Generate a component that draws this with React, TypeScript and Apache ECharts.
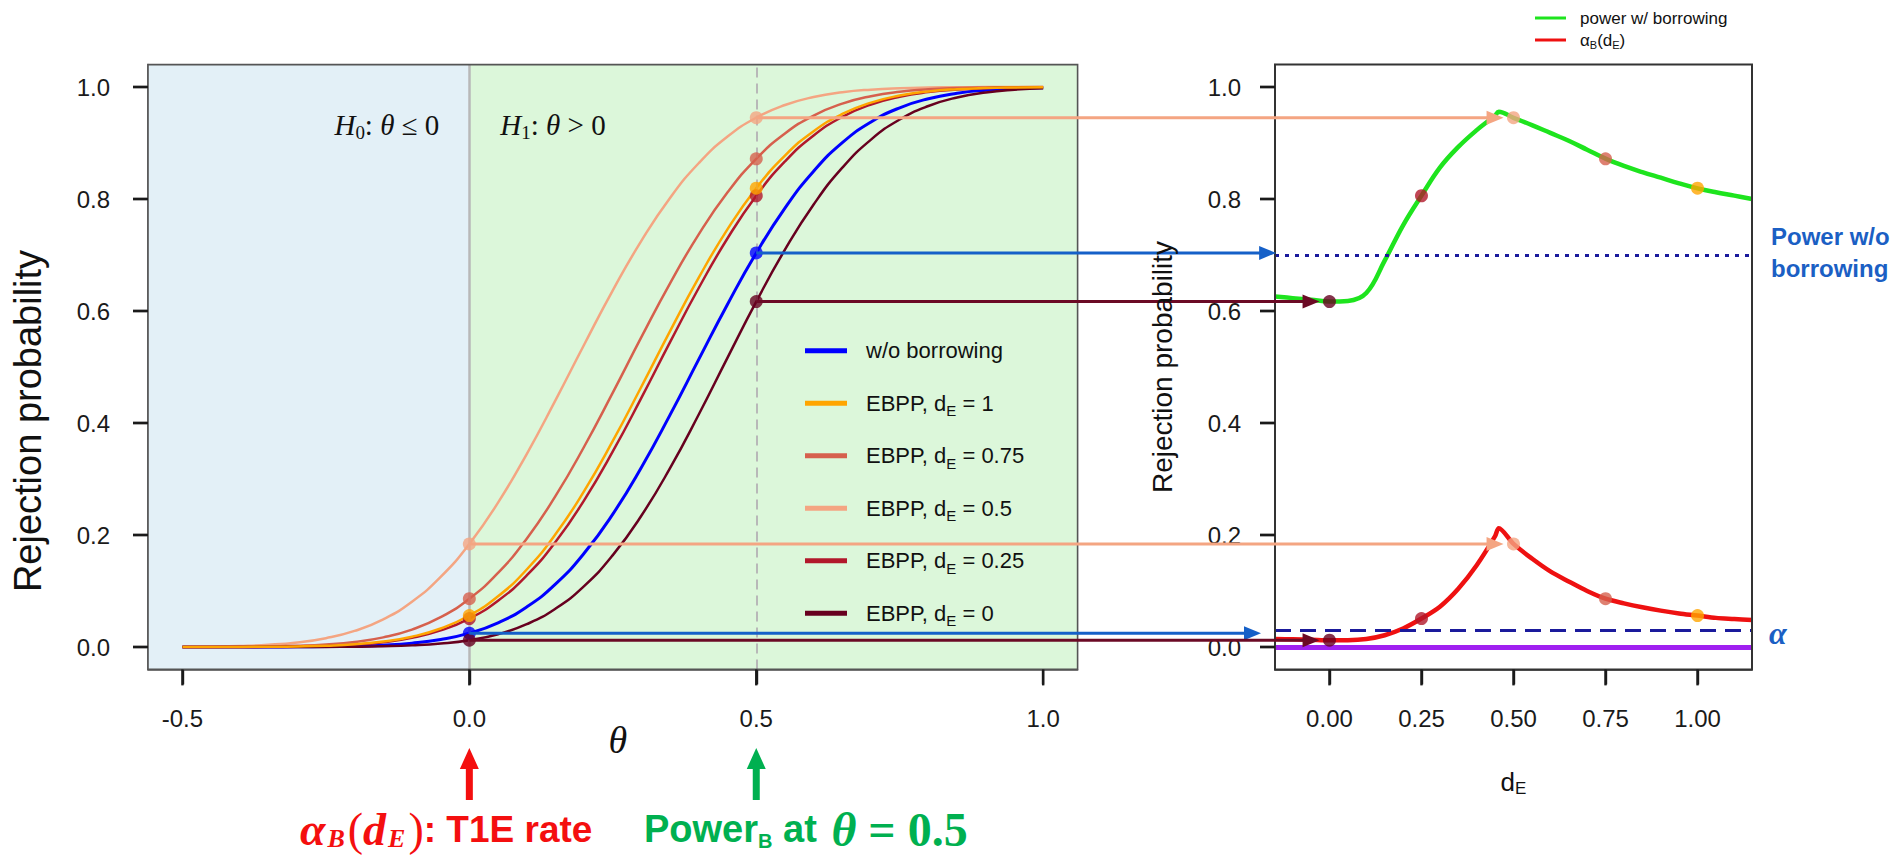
import React, { useEffect, useRef } from "react";
import * as echarts from "echarts";

// ---------- data ----------
const thetaGrid = [
  -0.5, -0.45, -0.4, -0.35, -0.3, -0.25, -0.2, -0.15, -0.1, -0.05, 0, 0.05, 0.1, 0.15, 0.2, 0.25,
  0.3, 0.35, 0.4, 0.45, 0.5, 0.55, 0.6, 0.65, 0.7, 0.75, 0.8, 0.85, 0.9, 0.95, 1.0,
];
const powerNoBorrow = [
  0.0, 0.0, 0.0, 0.0001, 0.0003, 0.0007, 0.0015, 0.0033, 0.0068, 0.0134, 0.0247, 0.0432, 0.0715,
  0.1122, 0.1673, 0.2373, 0.321, 0.4149, 0.514, 0.6122, 0.7037, 0.7838, 0.8497, 0.9006, 0.9376,
  0.9629, 0.9791, 0.9888, 0.9944, 0.9973, 0.9988,
];
const powerD1 = [
  0.0, 0.0001, 0.0002, 0.0004, 0.001, 0.0023, 0.0048, 0.0097, 0.0184, 0.0331, 0.0562, 0.0905, 0.1384,
  0.2012, 0.2784, 0.3679, 0.4651, 0.5645, 0.66, 0.7462, 0.8193, 0.8775, 0.9211, 0.9518, 0.9721,
  0.9847, 0.9921, 0.9961, 0.9982, 0.9992, 0.9997,
];
const powerD075 = [
  0.0001, 0.0002, 0.0004, 0.0009, 0.0021, 0.0045, 0.009, 0.0172, 0.0311, 0.0532, 0.0862, 0.1324,
  0.1935, 0.2693, 0.3576, 0.4542, 0.5537, 0.6499, 0.7373, 0.8119, 0.8718, 0.917, 0.949, 0.9703,
  0.9836, 0.9915, 0.9958, 0.998, 0.9991, 0.9996, 0.9999,
];
const powerD05 = [
  0.0003, 0.0008, 0.0019, 0.004, 0.0082, 0.0158, 0.0287, 0.0495, 0.0808, 0.1251, 0.1841, 0.2578,
  0.3446, 0.4404, 0.5398, 0.6368, 0.7257, 0.8023, 0.8643, 0.9115, 0.9452, 0.9678, 0.9821, 0.9906,
  0.9953, 0.9978, 0.999, 0.9996, 0.9998, 0.9999, 1.0,
];
const powerD025 = [
  0.0, 0.0001, 0.0001, 0.0004, 0.0009, 0.0019, 0.0042, 0.0085, 0.0163, 0.0296, 0.0508, 0.0827,
  0.1277, 0.1874, 0.2619, 0.3492, 0.4453, 0.5448, 0.6415, 0.7299, 0.8058, 0.867, 0.9135, 0.9466,
  0.9687, 0.9827, 0.9909, 0.9955, 0.9979, 0.9991, 0.9996,
];
const powerD0 = [
  0.0, 0.0, 0.0, 0.0, 0.0001, 0.0002, 0.0005, 0.0013, 0.0029, 0.0061, 0.0121, 0.0229, 0.0407, 0.0684,
  0.1088, 0.164, 0.2348, 0.3199, 0.4157, 0.5168, 0.6168, 0.7095, 0.7902, 0.8559, 0.9061, 0.942,
  0.9661, 0.9813, 0.9903, 0.9952, 0.9978,
];

const curveNames = [
  "w/o borrowing",
  "EBPP, dE = 1",
  "EBPP, dE = 0.75",
  "EBPP, dE = 0.5",
  "EBPP, dE = 0.25",
  "EBPP, dE = 0",
];
const curveLegendText = [
  "w/o borrowing",
  "EBPP, d{sub|E} = 1",
  "EBPP, d{sub|E} = 0.75",
  "EBPP, d{sub|E} = 0.5",
  "EBPP, d{sub|E} = 0.25",
  "EBPP, d{sub|E} = 0",
];
const curveColors = ["#0000FF", "#FFA500", "#D6604D", "#F4A582", "#B2182B", "#67001F"];
const curveData = [powerNoBorrow, powerD1, powerD075, powerD05, powerD025, powerD0];
const curveDrawOrder = [0, 3, 2, 4, 5, 1];
const dotDrawOrder = [0, 3, 2, 4, 1, 5];

const dEGrid = [
  -0.148, -0.1, -0.05, 0, 0.05, 0.1, 0.15, 0.2, 0.25, 0.3, 0.35, 0.4, 0.45, 0.46, 0.5, 0.55, 0.6,
  0.65, 0.7, 0.75, 0.8, 0.85, 0.9, 0.95, 1.0, 1.05, 1.1, 1.148,
];
const powerBorrow = [
  0.626, 0.623, 0.62, 0.617, 0.618, 0.632, 0.69, 0.753, 0.806, 0.856, 0.893, 0.923, 0.949, 0.956,
  0.945, 0.932, 0.918, 0.904, 0.888, 0.872, 0.859, 0.848, 0.838, 0.828, 0.819, 0.812, 0.806, 0.8,
];
const t1eBorrow = [
  0.0143, 0.0137, 0.013, 0.0121, 0.0122, 0.0143, 0.021, 0.033, 0.0508, 0.072, 0.104, 0.146, 0.198,
  0.212, 0.184, 0.158, 0.135, 0.117, 0.1, 0.0862, 0.078, 0.071, 0.065, 0.06, 0.0562, 0.052, 0.05,
  0.048,
];
const dEPoints = [0, 0.25, 0.5, 0.75, 1];
const dEPointCurve = [5, 4, 3, 2, 1];

const alphaLevel = 0.025;
const thetaT1E = 0;
const thetaPower = 0.5;

const arrowTheta = [0.5, 0.5, 0.5, 0, 0, 0];
const arrowCurve = [3, 0, 5, 3, 0, 5];
const arrowTipDE = [0.473, -0.145, -0.027, 0.473, -0.186, -0.027];
const arrowColors = ["#F4A582", "#1560C8", "#6B0A25", "#F4A582", "#1560C8", "#6B0A25"];

const thetaTicks = [-0.5, 0, 0.5, 1];
const dETicks = [0, 0.25, 0.5, 0.75, 1];
const probTicks = [0, 0.2, 0.4, 0.6, 0.8, 1];

// ---------- layout ----------
const FONT = "'Liberation Sans', Arial, sans-serif";
const SERIF = "'Liberation Serif', 'DejaVu Serif', serif";
const GL = { left: 148, top: 64.6, width: 929.6, height: 604.8 };
const GR = { left: 1275, top: 64.6, width: 477, height: 604.8 };

function xyAxis(grid: number, min: number, max: number, ticks: number[], digits: number, margin: number, lineColor: string) {
  return {
    type: "value",
    gridIndex: grid,
    min,
    max,
    axisLine: { show: true, onZero: false, lineStyle: { color: lineColor, width: 1.6 } },
    splitLine: { show: false },
    axisTick: { show: true, inside: false, length: 15, customValues: ticks, lineStyle: { color: "#1a1a1a", width: 2.4 } },
    axisLabel: {
      customValues: ticks,
      formatter: (v: number) => v.toFixed(digits),
      fontSize: 24,
      fontFamily: FONT,
      color: "#1a1a1a",
      margin,
    },
  };
}

function buildOption() {
  const i0 = thetaGrid.indexOf(thetaT1E);
  const i5 = thetaGrid.indexOf(thetaPower);
  const series: any[] = [];
  series.push({
    type: "line",
    xAxisIndex: 0,
    yAxisIndex: 0,
    data: [[-0.5, 0]],
    symbol: "none",
    lineStyle: { width: 0 },
    silent: true,
    z: 0,
    markArea: {
      silent: true,
      data: [
        [{ xAxis: -0.56, yAxis: -0.04, itemStyle: { color: "#E3F0F7" } }, { xAxis: 0, yAxis: 1.04 }],
        [{ xAxis: 0, yAxis: -0.04, itemStyle: { color: "#DCF7DA" } }, { xAxis: 1.06, yAxis: 1.04 }],
      ],
    },
    markLine: {
      silent: true,
      symbol: ["none", "none"],
      label: { show: false },
      data: [
        { xAxis: thetaT1E, lineStyle: { color: "#b8b8b8", width: 2.5, type: "solid" } },
        { xAxis: thetaPower, lineStyle: { color: "#b8b8b8", width: 2, type: [10, 6] } },
      ],
    },
  });
  curveDrawOrder.forEach((k) => {
    series.push({
      name: curveNames[k],
      type: "line",
      xAxisIndex: 0,
      yAxisIndex: 0,
      data: thetaGrid.map((t, i) => [t, curveData[k][i]]),
      showSymbol: false,
      symbol: "none",
      smooth: 0.5,
      color: curveColors[k],
      itemStyle: { color: curveColors[k] },
      lineStyle: { color: curveColors[k], width: k === 0 ? 3 : 2.5, join: "round" },
      z: 3,
      silent: true,
    });
  });
  series.push({
    type: "scatter",
    xAxisIndex: 0,
    yAxisIndex: 0,
    symbolSize: 13,
    z: 5,
    silent: true,
    data: dotDrawOrder.flatMap((k) => [
      { value: [thetaT1E, curveData[k][i0]], itemStyle: { color: curveColors[k] } },
      { value: [thetaPower, curveData[k][i5]], itemStyle: { color: curveColors[k] } },
    ]),
  });
  // right panel
  series.push({
    type: "line",
    xAxisIndex: 1,
    yAxisIndex: 1,
    data: [[-0.148, 0]],
    symbol: "none",
    lineStyle: { width: 0 },
    silent: true,
    z: 1,
    markLine: {
      silent: true,
      symbol: ["none", "none"],
      label: { show: false },
      data: [
        { yAxis: 0, lineStyle: { color: "#A020F0", width: 5, type: "solid" } },
        { yAxis: alphaLevel, lineStyle: { color: "#1a1a9c", width: 3, type: [16, 9] } },
        { yAxis: powerNoBorrow[i5], lineStyle: { color: "#1a1a9c", width: 3, type: [4, 6] } },
      ],
    },
  });
  series.push({
    name: "power w/ borrowing",
    type: "line",
    xAxisIndex: 1,
    yAxisIndex: 1,
    data: dEGrid.map((d, i) => [d, powerBorrow[i]]),
    showSymbol: false,
    symbol: "none",
    smooth: 0.4,
    color: "#1ee41e",
    itemStyle: { color: "#1ee41e" },
    lineStyle: { color: "#1ee41e", width: 4.5, join: "round" },
    z: 3,
    silent: true,
  });
  series.push({
    name: "alphaB(dE)",
    type: "line",
    xAxisIndex: 1,
    yAxisIndex: 1,
    data: dEGrid.map((d, i) => [d, t1eBorrow[i]]),
    showSymbol: false,
    symbol: "none",
    smooth: 0.3,
    color: "#ee1111",
    itemStyle: { color: "#ee1111" },
    lineStyle: { color: "#ee1111", width: 4.5, join: "round" },
    z: 3,
    silent: true,
  });
  series.push({
    type: "scatter",
    xAxisIndex: 1,
    yAxisIndex: 1,
    symbolSize: 13,
    z: 5,
    silent: true,
    data: dEPoints.flatMap((d, j) => {
      const k = dEPointCurve[j];
      return [
        { value: [d, curveData[k][i5]], itemStyle: { color: curveColors[k] } },
        { value: [d, curveData[k][i0]], itemStyle: { color: curveColors[k] } },
      ];
    }),
  });

  const legendNameMap: Record<string, string> = {};
  curveNames.forEach((n, i) => (legendNameMap[n] = curveLegendText[i]));

  return {
    animation: false,
    backgroundColor: "#ffffff",
    grid: [
      { ...GL, containLabel: false, outerBoundsMode: "none" },
      { ...GR, containLabel: false, outerBoundsMode: "none" },
    ],
    xAxis: [
      xyAxis(0, -0.56, 1.06, thetaTicks, 1, 37, "#555"),
      xyAxis(1, -0.148, 1.148, dETicks, 2, 37, "#333"),
    ],
    yAxis: [
      xyAxis(0, -0.04, 1.04, probTicks, 1, 38, "#555"),
      xyAxis(1, -0.04, 1.04, probTicks, 1, 34, "#333"),
    ],
    legend: [
      {
        data: curveNames,
        orient: "vertical",
        left: 805,
        top: 335.7,
        padding: 0,
        itemWidth: 42,
        itemHeight: 5,
        icon: "rect",
        itemGap: 22.5,
        selectedMode: false,
        formatter: (name: string) => legendNameMap[name],
        textStyle: {
          fontSize: 22,
          fontFamily: FONT,
          color: "#111",
          lineHeight: 30,
          padding: [0, 0, 0, 14],
          rich: { sub: { fontSize: 15, lineHeight: 15, verticalAlign: "bottom", fontFamily: FONT, color: "#111" } },
        },
      },
      {
        data: ["power w/ borrowing", "alphaB(dE)"],
        orient: "vertical",
        left: 1535,
        top: 8,
        padding: 0,
        itemWidth: 31,
        itemHeight: 3,
        icon: "rect",
        itemGap: 2,
        selectedMode: false,
        formatter: (name: string) => (name === "alphaB(dE)" ? "α{sub|B}(d{sub|E})" : name),
        textStyle: {
          fontSize: 17,
          fontFamily: FONT,
          color: "#111",
          lineHeight: 20,
          padding: [0, 0, 0, 9],
          rich: { sub: { fontSize: 11, lineHeight: 11, verticalAlign: "bottom", fontFamily: FONT, color: "#111" } },
        },
      },
    ],
    series,
  };
}

function buildGraphics(chart: any) {
  const p0 = (x: number, y: number) => chart.convertToPixel({ gridIndex: 0 }, [x, y]);
  const p1 = (x: number, y: number) => chart.convertToPixel({ gridIndex: 1 }, [x, y]);
  const els: any[] = [];
  const a = p0(-0.56, 1.04), b = p0(1.06, -0.04);
  els.push({ type: "rect", z: 10, shape: { x: a[0], y: a[1], width: b[0] - a[0], height: b[1] - a[1] }, style: { fill: "none", stroke: "#555", lineWidth: 1.6 } });
  const c = p1(-0.148, 1.04), d = p1(1.148, -0.04);
  els.push({ type: "rect", z: 10, shape: { x: c[0], y: c[1], width: d[0] - c[0], height: d[1] - c[1] }, style: { fill: "none", stroke: "#333", lineWidth: 2 } });

  // tick marks outside the boxes, drawn as polygons through the axes' scales
  const tickPoly = (x1: number, y1: number, x2: number, y2: number) => ({
    type: "polygon",
    z: 30,
    shape: { points: [[x1, y1], [x2, y1], [x2, y2], [x1, y2]] },
    style: { fill: "#1a1a1a" },
  });
  thetaTicks.forEach((t) => {
    const x = p0(t, 0)[0];
    els.push(tickPoly(x - 1.2, b[1], x + 1.2, b[1] + 16));
  });
  dETicks.forEach((t) => {
    const x = p1(t, 0)[0];
    els.push(tickPoly(x - 1.2, d[1], x + 1.2, d[1] + 16));
  });
  probTicks.forEach((v) => {
    const y0 = p0(-0.56, v)[1];
    els.push(tickPoly(a[0] - 15, y0 - 1.2, a[0], y0 + 1.2));
    const y1 = p1(-0.148, v)[1];
    els.push(tickPoly(c[0] - 15, y1 - 1.2, c[0], y1 + 1.2));
  });

  const hRich = {
    i: { fontFamily: SERIF, fontStyle: "italic", fontSize: 29, lineHeight: 34, fill: "#111", color: "#111" },
    s: { fontFamily: SERIF, fontSize: 19, lineHeight: 19, verticalAlign: "bottom", fill: "#111", color: "#111" },
    n: { fontFamily: SERIF, fontSize: 29, lineHeight: 34, fill: "#111", color: "#111" },
  };
  const x0 = p0(thetaT1E, 0)[0];
  const x5 = p0(thetaPower, 0)[0];
  els.push({ type: "text", z: 20, x: x0 - 30, y: 125, style: { text: "{i|H}{s|0}{n|: }{i|θ}{n| ≤ 0}", rich: hRich, align: "right", verticalAlign: "middle" } });
  els.push({ type: "text", z: 20, x: x0 + 31, y: 125, style: { text: "{i|H}{s|1}{n|: }{i|θ}{n| > 0}", rich: hRich, align: "left", verticalAlign: "middle" } });

  // axis titles
  els.push({ type: "text", z: 20, x: 28, y: 421, rotation: Math.PI / 2, style: { text: "Rejection probability", fontFamily: FONT, fontSize: 38, fill: "#111", align: "center", verticalAlign: "middle" } });
  els.push({ type: "text", z: 20, x: 1162, y: (c[1] + d[1]) / 2, rotation: Math.PI / 2, style: { text: "Rejection probability", fontFamily: FONT, fontSize: 28, fill: "#111", align: "center", verticalAlign: "middle" } });
  els.push({ type: "text", z: 20, x: (a[0] + b[0]) / 2 + 5, y: 740, style: { text: "θ", fontFamily: SERIF, fontStyle: "italic", fontSize: 38, fill: "#111", align: "center", verticalAlign: "middle" } });
  els.push({
    type: "text", z: 20, x: (c[0] + d[0]) / 2, y: 782,
    style: {
      text: "{n|d}{s|E}", align: "center", verticalAlign: "middle",
      rich: {
        n: { fontFamily: FONT, fontSize: 26, lineHeight: 30, fill: "#111", color: "#111" },
        s: { fontFamily: FONT, fontSize: 17, lineHeight: 17, verticalAlign: "bottom", fill: "#111", color: "#111" },
      },
    },
  });

  // cross-panel arrows
  const headLen = 17, headHalf = 7;
  arrowTheta.forEach((t, j) => {
    const idx = thetaGrid.indexOf(t);
    const v = curveData[arrowCurve[j]][idx];
    const s = p0(t, v);
    const tip = p1(arrowTipDE[j], v);
    els.push({ type: "line", z: 15, shape: { x1: s[0], y1: s[1], x2: tip[0] - headLen + 2, y2: s[1] }, style: { stroke: arrowColors[j], lineWidth: 3 } });
    els.push({ type: "polygon", z: 15, shape: { points: [[tip[0], s[1]], [tip[0] - headLen, s[1] - headHalf], [tip[0] - headLen, s[1] + headHalf]] }, style: { fill: arrowColors[j] } });
  });

  // right-side annotations
  const py = p1(1.148, powerNoBorrow[thetaGrid.indexOf(thetaPower)]);
  els.push({ type: "text", z: 20, x: 1771, y: py[1], style: { text: "Power w/o\nborrowing", fontFamily: FONT, fontWeight: "bold", fontSize: 24, lineHeight: 32, fill: "#1b5fc4", align: "left", verticalAlign: "middle" } });
  const pa = p1(1.148, alphaLevel);
  els.push({ type: "text", z: 20, x: 1769, y: pa[1], style: { text: "α", fontFamily: SERIF, fontStyle: "italic", fontWeight: "bold", fontSize: 32, fill: "#1b5fc4", align: "left", verticalAlign: "middle" } });

  // bottom arrows
  const upArrow = (x: number, color: string) => ({
    type: "polygon", z: 20,
    shape: { points: [[x - 3.5, 800], [x - 3.5, 769], [x - 9.5, 769], [x, 748], [x + 9.5, 769], [x + 3.5, 769], [x + 3.5, 800]] },
    style: { fill: color },
  });
  els.push(upArrow(x0, "#f40f0f"));
  els.push(upArrow(x5, "#00B050"));

  const red = "#f40f0f";
  els.push({
    type: "text", z: 20, x: 300, y: 829,
    style: {
      text: "{m|α}{ms|B}{p|(}{m|d}{ms|E}{p|)}{t|: T1E rate}", align: "left", verticalAlign: "middle",
      rich: {
        m: { fontFamily: SERIF, fontStyle: "italic", fontWeight: "bold", fontSize: 46, lineHeight: 44, fill: red, color: red, padding: [0, 2, 0, 0] },
        ms: { fontFamily: SERIF, fontStyle: "italic", fontWeight: "bold", fontSize: 26, lineHeight: 26, verticalAlign: "bottom", fill: red, color: red, padding: [0, 3, 0, 0] },
        p: { fontFamily: SERIF, fontSize: 46, lineHeight: 44, fill: red, color: red },
        t: { fontFamily: FONT, fontWeight: "bold", fontSize: 37, lineHeight: 44, fill: red, color: red },
      },
    },
  });
  const green = "#00B050";
  els.push({
    type: "text", z: 20, x: 644, y: 829,
    style: {
      text: "{t|Power}{ts|B}{t| at }{m|θ}{n| = 0.5}", align: "left", verticalAlign: "middle",
      rich: {
        t: { fontFamily: FONT, fontWeight: "bold", fontSize: 38, lineHeight: 44, fill: green, color: green },
        ts: { fontFamily: FONT, fontWeight: "bold", fontSize: 20, lineHeight: 20, verticalAlign: "bottom", fill: green, color: green },
        m: { fontFamily: SERIF, fontStyle: "italic", fontWeight: "bold", fontSize: 48, lineHeight: 44, fill: green, color: green, padding: [0, 0, 0, 4] },
        n: { fontFamily: SERIF, fontWeight: "bold", fontSize: 48, lineHeight: 44, fill: green, color: green },
      },
    },
  });
  return els;
}

export default function App() {
  const ref = useRef<HTMLDivElement>(null);
  useEffect(() => {
    document.body.style.margin = "0";
    const chart = echarts.init(ref.current!, null, { renderer: "svg" });
    chart.setOption(buildOption() as any);
    chart.setOption({ graphic: { elements: buildGraphics(chart) } } as any);
    return () => chart.dispose();
  }, []);
  return <div ref={ref} style={{ width: 1899, height: 857 }} />;
}
